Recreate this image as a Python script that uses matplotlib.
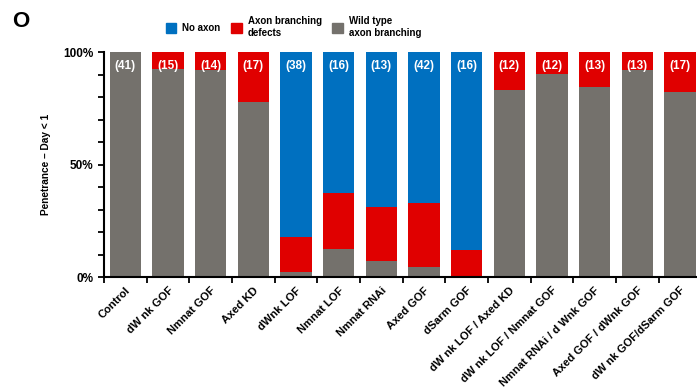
import numpy as np
import matplotlib.pyplot as plt
from matplotlib.patches import Patch
from matplotlib.ticker import MultipleLocator

plt.rcParams['font.family'] = ['Liberation Sans', 'DejaVu Sans']

genotypes = ["Control", "dW nk GOF", "Nmnat GOF", "Axed KD", "dWnk LOF", "Nmnat LOF",
             "Nmnat RNAi", "Axed GOF", "dSarm GOF", "dW nk LOF / Axed KD",
             "dW nk LOF / Nmnat GOF", "Nmnat RNAi / d Wnk GOF",
             "Axed GOF / dWnk GOF", "dW nk GOF/dSarm GOF"]
counts = [41, 15, 14, 17, 38, 16, 13, 42, 16, 12, 12, 13, 13, 17]

# percent of animals per phenotype
wild_type = [100, 92.4, 92.2, 78.0, 2.2, 12.3, 7.1, 4.3, 0.0, 83.1, 90.2, 84.4, 92.2, 82.3]
branching = [0, 7.6, 7.8, 22.0, 15.6, 24.9, 23.8, 28.5, 12.2, 16.9, 9.8, 15.6, 7.8, 17.7]
no_axon = [100 - w - b for w, b in zip(wild_type, branching)]

c_blue = "#0070C0"
c_red = "#E00000"
c_gray = "#74716C"

fig = plt.figure(figsize=(6.97, 3.9), dpi=100, facecolor='white')
ax = fig.add_axes([0.1492, 0.2897, 0.8508, 0.5769])

x = np.arange(len(genotypes))
w = 0.73
ax.bar(x, wild_type, w, color=c_gray)
ax.bar(x, branching, w, bottom=wild_type, color=c_red)
ax.bar(x, no_axon, w, bottom=np.array(wild_type) + np.array(branching), color=c_blue)

for xi, n in zip(x, counts):
    ax.text(xi, 94, "(%d)" % n, color='white', fontsize=8.5, weight='bold',
            ha='center', va='center')

ax.set_xlim(-0.5, 13.4)
ax.set_ylim(0, 100)
ax.spines['top'].set_visible(False)
ax.spines['right'].set_visible(False)
ax.spines['left'].set_linewidth(1.5)
ax.spines['bottom'].set_linewidth(1.5)

ax.set_yticks([0, 50, 100])
ax.set_yticklabels(["0%", "50%", "100%"], fontsize=8.5, weight='bold')
ax.yaxis.set_minor_locator(MultipleLocator(10))
ax.tick_params(axis='y', which='both', direction='out', length=4, width=1.3)

ax.set_xticks(x)
ax.set_xticklabels(genotypes, rotation=45, ha='right', rotation_mode='anchor',
                   fontsize=8, weight='bold')
ax.set_xticks(np.arange(-0.5, 13.5, 1), minor=True)
ax.tick_params(axis='x', which='major', length=0, pad=6)
ax.tick_params(axis='x', which='minor', direction='out', length=4, width=1.3)

ax.set_ylabel("Penetrance \u2013 Day < 1", fontsize=7.3, weight='bold', labelpad=9)

handles = [Patch(color=c_blue), Patch(color=c_red), Patch(color=c_gray)]
labels = ["No axon", "Axon branching\ndefects", "Wild type\naxon branching"]
fig.legend(handles, labels, ncol=3, frameon=False, loc='center left',
           bbox_to_anchor=(0.225, 0.93), prop={'size': 7, 'weight': 'bold'},
           handlelength=1.1, handleheight=1.1, handletextpad=0.6, columnspacing=1.1)

fig.text(0.018, 0.945, "O", fontsize=16, weight='bold', va='center')

fig.savefig("out.png", dpi=100)
